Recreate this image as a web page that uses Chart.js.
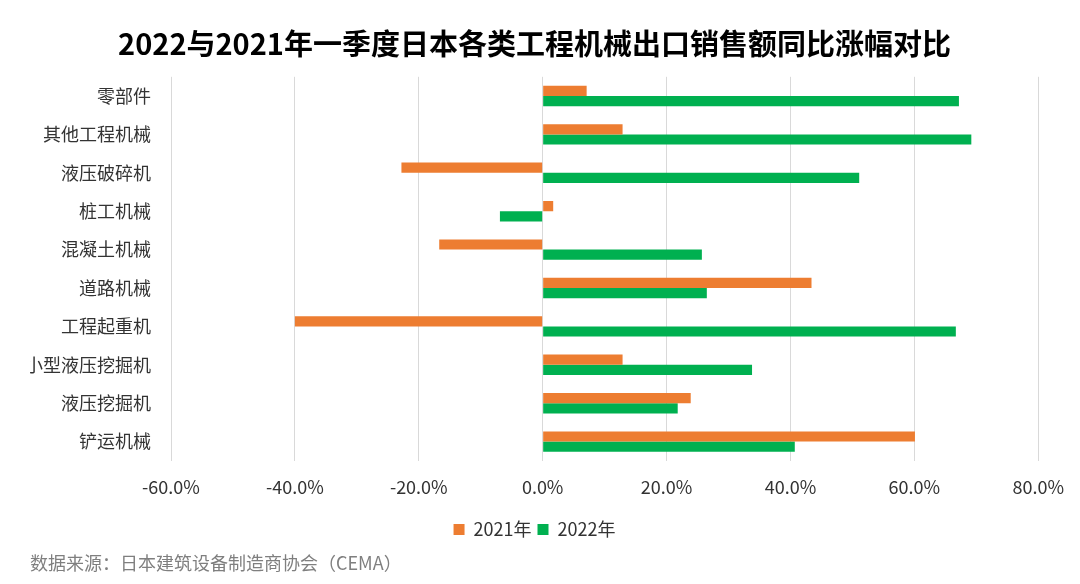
<!DOCTYPE html>
<html>
<head>
<meta charset="utf-8">
<script src="https://cdn.jsdelivr.net/npm/chart.js@4"></script>
<style>
  html, body { margin: 0; padding: 0; background: #fff; }
  #wrap { width: 1080px; height: 584px; }
</style>
</head>
<body>
<div id="wrap"><canvas id="chart"></canvas></div>
<script>
const categories = ['零部件', '其他工程机械', '液压破碎机', '桩工机械', '混凝土机械',
                    '道路机械', '工程起重机', '小型液压挖掘机', '液压挖掘机', '铲运机械'];
const values2021 = [7.1, 12.9, -22.8, 1.7, -16.7, 43.4, -40.0, 12.9, 23.9, 60.1];
const values2022 = [67.2, 69.2, 51.1, -6.9, 25.7, 26.5, 66.7, 33.8, 21.8, 40.7];
const seriesNames = ['2021年', '2022年'];

const fontFamily = '"Noto Sans CJK SC", "Noto Sans", sans-serif';

new Chart(document.getElementById('chart'), {
    type: 'bar',
    data: {
        labels: categories,
        datasets: [
            { label: seriesNames[0], data: values2021, backgroundColor: '#ED7D31' },
            { label: seriesNames[1], data: values2022, backgroundColor: '#00B050' }
        ]
    },
    options: {
        indexAxis: 'y',
        responsive: true,
        maintainAspectRatio: false,
        animation: false,
        categoryPercentage: 0.53,
        barPercentage: 1,
        layout: { padding: { left: 30, right: 41, top: 14, bottom: 6 } },
        scales: {
            x: {
                min: -60,
                max: 80,
                ticks: {
                    stepSize: 20,
                    padding: 16,
                    color: '#333',
                    font: { family: fontFamily, size: 18 },
                    callback: v => v.toFixed(1) + '%'
                },
                grid: { color: '#d9d9d9', drawTicks: false },
                border: { display: false }
            },
            y: {
                afterFit: scale => { scale.width = 141; },
                ticks: {
                    padding: 12,
                    color: '#333',
                    font: { family: fontFamily, size: 18 }
                },
                grid: { display: false },
                border: { display: false }
            }
        },
        plugins: {
            title: {
                display: true,
                text: '2022与2021年一季度日本各类工程机械出口销售额同比涨幅对比',
                color: '#000',
                font: { family: fontFamily, size: 29, weight: 'bold' },
                padding: { top: 13, bottom: 15 }
            },
            legend: {
                position: 'bottom',
                labels: {
                    boxWidth: 11,
                    boxHeight: 11,
                    padding: 6,
                    color: '#333',
                    font: { family: fontFamily, size: 18 }
                }
            },
            subtitle: {
                display: true,
                position: 'bottom',
                align: 'start',
                text: '数据来源：日本建筑设备制造商协会（CEMA）',
                color: '#7f7f7f',
                font: { family: fontFamily, size: 18 },
                padding: { top: 4, bottom: 4 }
            },
            tooltip: { enabled: false }
        }
    }
});
</script>
</body>
</html>
